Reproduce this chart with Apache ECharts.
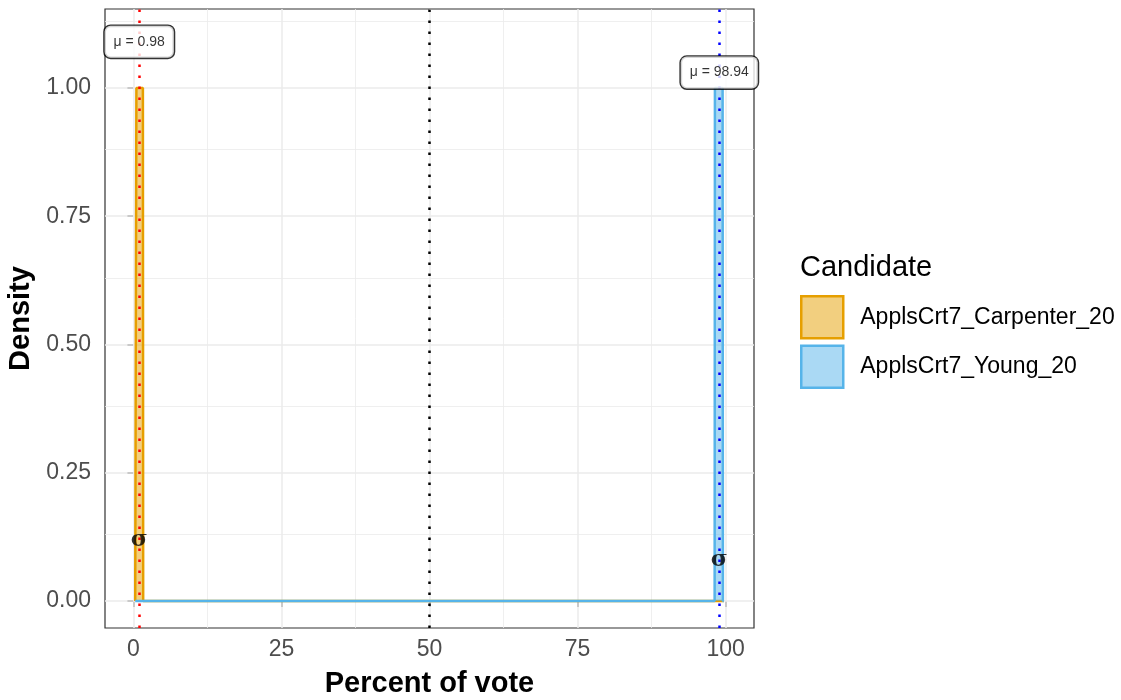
<!DOCTYPE html>
<html>
<head>
<meta charset="utf-8">
<script src="https://cdn.jsdelivr.net/npm/echarts@6/dist/echarts.min.js"></script>
<style>
  html, body { margin: 0; padding: 0; background: #ffffff; }
  #chart { width: 1121px; height: 700px; }
</style>
</head>
<body>
<div id="chart"></div>
<script>
// ---- Data ----
const candidates = ['ApplsCrt7_Carpenter_20', 'ApplsCrt7_Young_20'];
const carpenterX = [0.3, 0.45, 0.5, 1.6, 1.65, 99.7];
const carpenterY = [0, 0, 1.0, 1.0, 0, 0];
const youngX = [0.3, 98.15, 98.2, 99.5, 99.55, 99.7];
const youngY = [0, 0, 1.0, 1.0, 0, 0];
const means = [0.98, 98.94];
const muLabelY = [1.09, 1.03];
const sigmaY = [0.119, 0.08];
const midLine = 50;
const xTicks = [0, 25, 50, 75, 100];
const xMinor = [12.5, 37.5, 62.5, 87.5];
const yTicks = [0, 0.25, 0.5, 0.75, 1.0];
const yMinor = [0.125, 0.375, 0.625, 0.875, 1.125];

const lineColors = ['#E69F00', '#56B4E9'];
const fillColors = ['rgba(230,159,0,0.5)', 'rgba(86,180,233,0.5)'];
const meanColors = ['#ff0000', '#0000ff'];
const FONT = '"Liberation Sans", Arial, Helvetica, sans-serif';

const pts = (xs, ys) => xs.map((x, i) => [x, ys[i]]);

const gridMarks = [];
xMinor.forEach(v => gridMarks.push({ xAxis: v, lineStyle: { color: '#ebebeb', width: 0.8, type: 'solid' } }));
yMinor.forEach(v => gridMarks.push({ yAxis: v, lineStyle: { color: '#ebebeb', width: 0.8, type: 'solid' } }));
xTicks.forEach(v => gridMarks.push({ xAxis: v, lineStyle: { color: '#ebebeb', width: 1.5, type: 'solid' } }));
yTicks.forEach(v => gridMarks.push({ yAxis: v, lineStyle: { color: '#ebebeb', width: 1.5, type: 'solid' } }));

const vMarks = means.map((m, i) => ({ xAxis: m, lineStyle: { color: meanColors[i], width: 2.5, type: [2.5, 8.5] } }));
vMarks.push({ xAxis: midLine, lineStyle: { color: '#000000', width: 2.5, type: [2.5, 8.5] } });

const option = {
  backgroundColor: '#ffffff',
  animation: false,
  title: {
    text: 'Candidate', left: 800, top: 253, padding: 0,
    textStyle: { fontFamily: FONT, fontSize: 29, fontWeight: 'normal', color: '#000000' }
  },
  legend: {
    orient: 'vertical', left: 800, top: 295, padding: 0,
    itemWidth: 42, itemHeight: 42, itemGap: 5, icon: 'rect',
    textStyle: { fontFamily: FONT, fontSize: 23, color: '#000000', padding: [0, 0, 0, 12] },
    data: candidates.map((c, i) => ({
      name: c, icon: 'rect',
      itemStyle: { color: fillColors[i], borderColor: lineColors[i], borderWidth: 2.5 }
    }))
  },
  grid: {
    left: 105, top: 9, width: 649, height: 619,
    outerBoundsMode: 'none', containLabel: false,
    show: true, backgroundColor: '#ffffff', borderColor: '#333333', borderWidth: 1.2
  },
  xAxis: {
    type: 'value', min: -4.8, max: 104.8,
    name: 'Percent of vote', nameLocation: 'middle', nameGap: 41,
    nameTextStyle: { fontFamily: FONT, fontSize: 29, fontWeight: 'bold', color: '#000000' },
    axisLine: { show: false },
    splitLine: { show: false },
    axisTick: { show: true, customValues: xTicks, length: 6, lineStyle: { color: '#333333', width: 1.5 } },
    axisLabel: { show: true, customValues: xTicks, margin: 10, fontFamily: FONT, fontSize: 23, color: '#4d4d4d',
      formatter: v => String(v) }
  },
  yAxis: {
    type: 'value', min: -0.0527, max: 1.154,
    name: 'Density', nameLocation: 'middle', nameGap: 67, nameRotate: 90,
    nameTextStyle: { fontFamily: FONT, fontSize: 29, fontWeight: 'bold', color: '#000000' },
    axisLine: { show: false },
    splitLine: { show: false },
    axisTick: { show: true, customValues: yTicks, length: 6, lineStyle: { color: '#333333', width: 1.5 } },
    axisLabel: { show: true, customValues: yTicks, margin: 14, fontFamily: FONT, fontSize: 23, color: '#4d4d4d',
      formatter: v => v.toFixed(2) }
  },
  series: [
    {
      name: '__grid', type: 'line', data: [], silent: true, z: 1,
      markLine: { z: 1, silent: true, symbol: ['none', 'none'], label: { show: false }, animation: false, data: gridMarks }
    },
    {
      name: candidates[0], type: 'line', data: pts(carpenterX, carpenterY), showSymbol: false, z: 3,
      lineStyle: { color: lineColors[0], width: 2.5 }, itemStyle: { color: lineColors[0] },
      areaStyle: { color: fillColors[0], opacity: 1 }
    },
    {
      name: candidates[1], type: 'line', data: pts(youngX, youngY), showSymbol: false, z: 4,
      lineStyle: { color: lineColors[1], width: 2.5 }, itemStyle: { color: lineColors[1] },
      areaStyle: { color: fillColors[1], opacity: 1 }
    },
    {
      name: '__vlines', type: 'line', data: [], silent: true, z: 5,
      markLine: { z: 5, silent: true, symbol: ['none', 'none'], label: { show: false }, animation: false, data: vMarks }
    },
    {
      name: '__sigma', type: 'scatter', z: 6, clip: false, symbolSize: 1,
      itemStyle: { color: 'rgba(0,0,0,0)' },
      data: means.map((m, i) => [m, sigmaY[i]]),
      label: { show: true, position: 'inside', formatter: 'σ', color: '#000000',
        fontFamily: '"DejaVu Serif", serif', fontWeight: 'bold', fontSize: 23 }
    },
    {
      name: '__mu', type: 'scatter', z: 7, clip: false, symbolSize: 1,
      itemStyle: { color: 'rgba(0,0,0,0)' },
      data: means.map((m, i) => [m, muLabelY[i]]),
      label: { show: true, position: 'inside', color: '#000000',
        formatter: p => 'μ = ' + means[p.dataIndex],
        fontFamily: FONT, fontSize: 14, lineHeight: 16,
        backgroundColor: '#ffffff', borderColor: '#000000', borderWidth: 1.4, borderRadius: 6,
        padding: [8, 9, 8, 9] }
    }
  ]
};

const chart = echarts.init(document.getElementById('chart'), null, { renderer: 'canvas' });
chart.setOption(option);
</script>
</body>
</html>
